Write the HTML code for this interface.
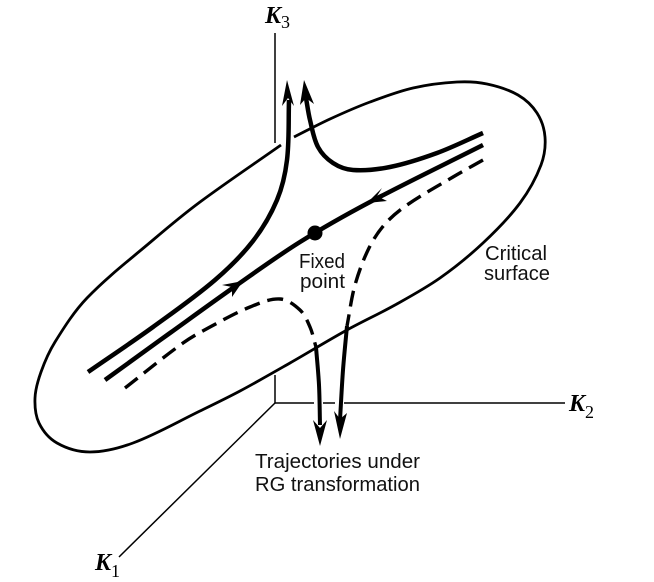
<!DOCTYPE html>
<html>
<head>
<meta charset="utf-8">
<style>
html,body{margin:0;padding:0;background:#fff;width:654px;height:582px;overflow:hidden}
svg{display:block}
.sans{font-family:"Liberation Sans",sans-serif;font-size:20.5px;fill:#111}
.k{font-family:"Liberation Serif",serif;font-style:italic;font-weight:bold;font-size:24px;fill:#000}
.sub{font-family:"Liberation Serif",serif;font-style:normal;font-weight:normal;font-size:18px;fill:#000}
path{fill:none;stroke:#000;stroke-linejoin:round}
polygon{fill:#000;stroke:none}
</style>
</head>
<body>
<svg width="654" height="582" viewBox="0 0 654 582">
  <g>
    <path d="M275 33V143" stroke-width="1.5"/>
    <path d="M275 375V403" stroke-width="1.5"/>
    <path d="M275 403H314M323 403H335M344 403H565" stroke-width="1.6"/>
    <path d="M275 403L119 557" stroke-width="1.5"/>
  </g>
  <path id="outline" stroke-width="2.8"/>
  <path id="upperLeft" stroke-width="4.5"/>
  <path id="upperRight" stroke-width="4.5"/>
  <path id="center" stroke-width="4.5"/>
  <path id="dashRight" stroke-width="3.4" stroke-dasharray="16 8"/>
  <path id="solidRight" stroke-width="4"/>
  <path id="dashLeft" stroke-width="3.4" stroke-dasharray="16 8"/>
  <path id="solidLeft" stroke-width="4"/>
  <circle cx="315" cy="233" r="7.5" fill="#000"/>
  <polygon points="287,80 282,106 288,98 294,106"/>
  <polygon points="304,80 300,105 306,98 314,104"/>
  <polygon points="320,446 313,420 320,428 327,420"/>
  <polygon points="340,439 334,411 340,419 347,413"/>
  <polygon points="367,203 382,188 377,196 387,201"/>
  <polygon points="243,281 222,285 232,287 232,297"/>
  <text class="k" x="265" y="23">K<tspan class="sub" dx="0" dy="5">3</tspan></text>
  <text class="k" x="569" y="411">K<tspan class="sub" dx="0" dy="7">2</tspan></text>
  <text class="k" x="95" y="570">K<tspan class="sub" dx="0" dy="7">1</tspan></text>
  <text class="sans" x="299" y="268" textLength="46" lengthAdjust="spacingAndGlyphs">Fixed</text>
  <text class="sans" x="300" y="288" textLength="45" lengthAdjust="spacingAndGlyphs">point</text>
  <text class="sans" x="485" y="260" textLength="62" lengthAdjust="spacingAndGlyphs">Critical</text>
  <text class="sans" x="484" y="280" textLength="66" lengthAdjust="spacingAndGlyphs">surface</text>
  <text class="sans" x="255" y="468" textLength="165" lengthAdjust="spacingAndGlyphs">Trajectories under</text>
  <text class="sans" x="255" y="491" textLength="165" lengthAdjust="spacingAndGlyphs">RG transformation</text>
</svg>
<script>
var outlinePoints=[[294,137],[330,119],[370,102],[413,88],[457,82],[487,84],[518,95],[537,113],[545,137],[541,165],[520,203],[483,243],[440,278],[395,305],[347,330],[290,363],[240,391],[200,411],[133,443],[90,452],[57,443],[39,423],[35,398],[41,372],[55,342],[87,298],[153,240],[200,202],[281,145]];
var upperLeftPoints=[[88,372],[153,327],[215,280],[253,241],[277,200],[287,160],[289,100]];
var upperRightPoints=[[306,98],[310,120],[318,147],[333,163],[353,170],[390,167],[437,153],[483,133]];
var centerPoints=[[105,380],[170,333],[237,285],[300,242],[370,202],[483,145]];
var dashRightPoints=[[483,160],[453,177],[407,205],[385,224],[369,248],[355,285],[347,326]];
var solidRightPoints=[[347,326],[343,370],[340,420]];
var dashLeftPoints=[[125,388],[183,343],[210,327],[250,307],[280,299],[300,310],[310,327],[316,347]];
var solidLeftPoints=[[316,347],[319,385],[320,425]];
function unitTangent(a,c){
  var dx=c[0]-a[0],dy=c[1]-a[1],n=Math.sqrt(dx*dx+dy*dy)||1;
  return [dx/n,dy/n];
}
function smoothPath(p){
  var d='M'+p[0][0]+' '+p[0][1];
  for(var i=0;i<p.length-1;i++){
    var a=p[Math.max(i-1,0)],b=p[i],c=p[i+1],e=p[Math.min(i+2,p.length-1)];
    var l=Math.sqrt((c[0]-b[0])*(c[0]-b[0])+(c[1]-b[1])*(c[1]-b[1]))/3;
    var t1=unitTangent(a,c),t2=unitTangent(b,e);
    d+='C'+(b[0]+t1[0]*l)+' '+(b[1]+t1[1]*l)+' '+(c[0]-t2[0]*l)+' '+(c[1]-t2[1]*l)+' '+c[0]+' '+c[1];
  }
  return d;
}
document.getElementById('outline').setAttribute('d',smoothPath(outlinePoints));
document.getElementById('upperLeft').setAttribute('d',smoothPath(upperLeftPoints));
document.getElementById('upperRight').setAttribute('d',smoothPath(upperRightPoints));
document.getElementById('center').setAttribute('d',smoothPath(centerPoints));
document.getElementById('dashRight').setAttribute('d',smoothPath(dashRightPoints));
document.getElementById('solidRight').setAttribute('d',smoothPath(solidRightPoints));
document.getElementById('dashLeft').setAttribute('d',smoothPath(dashLeftPoints));
document.getElementById('solidLeft').setAttribute('d',smoothPath(solidLeftPoints));
</script>
</body>
</html>
